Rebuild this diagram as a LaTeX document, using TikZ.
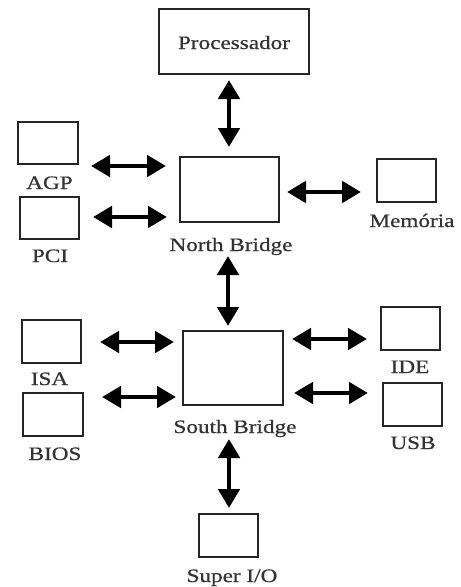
\documentclass[tikz,border=0pt]{standalone}
\usepackage{fontspec}
\setmainfont{Liberation Serif}[FakeStretch=1.22,FakeBold=0.6]
\usetikzlibrary{arrows.meta}
\begin{document}
\begin{tikzpicture}[x=1pt,y=-1pt,
  box/.style={draw=black!85, line width=1.3pt, inner sep=0pt},
  lbl/.style={anchor=base, inner sep=0pt, text=black!80, font=\fontsize{19}{21}\selectfont},
  biarrow/.style={line width=4.8pt, {Triangle[width=21pt,length=19pt]}-{Triangle[width=21pt,length=19pt]}}]
\useasboundingbox[fill=white] (0,0) rectangle (461,587);
% boxes
\node[box, minimum width=150pt, minimum height=65pt] (proc) at (234,41.5) {};
\node[lbl] (proct) at (234,49) {Processador};
\node[box, minimum width=99pt, minimum height=65pt] (nb) at (229.5,189.5) {};
\node[box, minimum width=60pt, minimum height=42pt] (agp) at (48,143) {};
\node[box, minimum width=59pt, minimum height=42pt] (pci) at (49.5,218) {};
\node[box, minimum width=59pt, minimum height=43pt] (mem) at (406.5,180.5) {};
\node[box, minimum width=100pt, minimum height=74pt] (sb) at (233,368) {};
\node[box, minimum width=59pt, minimum height=43pt] (isa) at (51.5,341.5) {};
\node[box, minimum width=60pt, minimum height=43pt] (bios) at (53,414.5) {};
\node[box, minimum width=59pt, minimum height=43pt] (ide) at (410.5,328.5) {};
\node[box, minimum width=59pt, minimum height=43pt] (usb) at (412.5,404.5) {};
\node[box, minimum width=59pt, minimum height=43pt] (sio) at (228.5,535.5) {};
% labels
\node[lbl] (agpl) at (49.5,189) {AGP};
\node[lbl] (pcil) at (50,262) {PCI};
\node[lbl] (nbl) at (231,251) {North Bridge};
\node[lbl] (meml) at (412,227) {Memória};
\node[lbl] (isal) at (49.5,385) {ISA};
\node[lbl] (biosl) at (55,460) {BIOS};
\node[lbl] (sbl) at (235,433) {South Bridge};
\node[lbl] (idel) at (410,373) {IDE};
\node[lbl] (usbl) at (413,449) {USB};
\node[lbl] (siol) at (232,582) {Super I/O};
% arrow end points
\coordinate (p1) at (229,80);  \coordinate (p2) at (229,147);
\coordinate (a1) at (91,166);  \coordinate (a2) at (166,166);
\coordinate (c1) at (93,217);  \coordinate (c2) at (167,217);
\coordinate (m1) at (287,192); \coordinate (m2) at (361,192);
\coordinate (n1) at (228,256); \coordinate (n2) at (228,326);
\coordinate (i1) at (100,342); \coordinate (i2) at (174,342);
\coordinate (b1) at (102,397); \coordinate (b2) at (176,397);
\coordinate (d1) at (292,339); \coordinate (d2) at (367,339);
\coordinate (u1) at (294,393); \coordinate (u2) at (368,393);
\coordinate (s1) at (229,439); \coordinate (s2) at (229,508);
% arrows
\draw[biarrow] (p1) -- (p2);
\draw[biarrow] (a1) -- (a2);
\draw[biarrow] (c1) -- (c2);
\draw[biarrow] (m1) -- (m2);
\draw[biarrow] (n1) -- (n2);
\draw[biarrow] (i1) -- (i2);
\draw[biarrow] (b1) -- (b2);
\draw[biarrow] (d1) -- (d2);
\draw[biarrow] (u1) -- (u2);
\draw[biarrow] (s1) -- (s2);
\end{tikzpicture}
\end{document}
